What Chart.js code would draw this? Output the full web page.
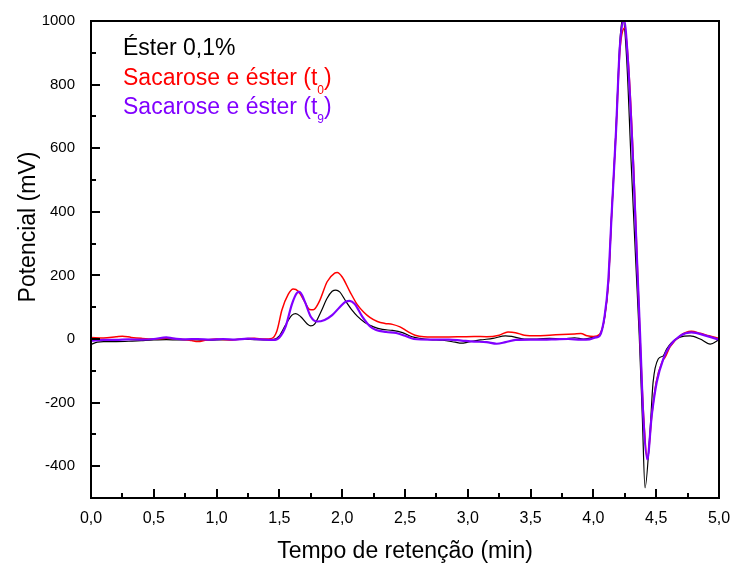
<!DOCTYPE html>
<html>
<head>
<meta charset="utf-8">
<script src="https://cdn.jsdelivr.net/npm/chart.js@4.4.1/dist/chart.umd.min.js"></script>
<style>
  html, body { margin: 0; padding: 0; background: #ffffff; }
  #wrap { width: 734px; height: 564px; position: relative; }
</style>
</head>
<body>
<div id="wrap"><canvas id="c" width="734" height="564"></canvas></div>
<script>
// ---------- Data ----------
const seriesNames = ["Éster 0,1%", "Sacarose e éster (t", "Sacarose e éster (t"];
const seriesSubs = ["", "0", "9"];
const seriesColors = ["#000000", "#ff0000", "#8000ff"];

const xTitle = "Tempo de retenção (min)";
const yTitle = "Potencial (mV)";

const xMajorTicks = [0, 0.5, 1, 1.5, 2, 2.5, 3, 3.5, 4, 4.5, 5];
const xMinorTicks = [0.25, 0.75, 1.25, 1.75, 2.25, 2.75, 3.25, 3.75, 4.25, 4.75];
const yMajorTicks = [-400, -200, 0, 200, 400, 600, 800, 1000];
const yMinorTicks = [-500, -300, -100, 100, 300, 500, 700, 900];

// Éster 0,1% (black)
const tEster = [0.00,0.05,0.10,0.20,0.30,0.40,0.50,0.60,0.70,0.80,0.90,1.00,1.10,1.20,1.30,1.40,1.45,
  1.50,1.55,1.60,1.63,1.67,1.72,1.75,1.78,1.83,1.88,1.92,1.95,1.98,2.03,2.08,2.12,2.18,2.25,2.32,2.40,2.48,
  2.55,2.62,2.70,2.80,2.90,2.95,3.00,3.10,3.20,3.30,3.35,3.45,3.55,3.65,3.75,3.85,3.92,4.00,4.05,4.09,
  4.12,4.145,4.18,4.21,4.235,4.265,4.30,4.34,4.365,4.39,4.411,4.45,4.475,4.516,4.556,4.583,4.62,4.69,
  4.77,4.85,4.93,5.00];
const vEster = [-17,-10,-8,-8,-7,-5,-3,-2,-3,-2,-4,-3,-2,-1,-2,-3,-2,
  10,45,75,80,70,48,41,47,85,128,150,154,148,118,90,72,52,38,30,27,20,
  8,2,-2,-4,-10,-13,-10,-3,2,10,8,0,0,2,0,4,0,5,12,70,
  180,390,660,930,1010,880,560,220,10,-250,-468,-295,-137,-63,-53,-32,-12,6,
  10,0,-16,-2];

// Sacarose e éster (t0) (red)
const tT0 = [0.00,0.10,0.20,0.25,0.32,0.40,0.50,0.60,0.70,0.80,0.85,0.92,1.00,1.10,1.20,1.30,1.38,1.44,
  1.48,1.52,1.57,1.61,1.65,1.70,1.74,1.77,1.82,1.88,1.94,1.96,2.00,2.06,2.12,2.17,2.22,2.28,2.34,2.40,
  2.46,2.52,2.58,2.65,2.80,2.95,3.05,3.15,3.25,3.32,3.38,3.45,3.55,3.65,3.75,3.85,3.90,3.95,4.00,4.05,
  4.09,4.12,4.145,4.18,4.21,4.25,4.28,4.32,4.35,4.37,4.40,4.43,4.465,4.50,4.55,4.57,4.61,4.69,4.78,
  4.85,4.92,5.00];
const vT0 = [5,3,7,9,5,2,0,2,0,-5,-8,-3,0,-3,0,2,0,2,
  25,91,140,157,150,118,93,92,120,180,207,209,195,150,108,85,68,55,49,46,
  38,24,12,7,6,7,8,7,12,22,20,12,10,12,14,16,17,10,8,15,
  70,180,390,650,900,978,860,545,230,20,-242,-378,-240,-136,-70,-58,-25,10,24,
  18,10,2];

// Sacarose e éster (t9) (purple)
const tT9 = [0.00,0.10,0.20,0.30,0.40,0.50,0.60,0.65,0.75,0.85,0.95,1.05,1.15,1.25,1.35,1.45,
  1.50,1.55,1.60,1.64,1.66,1.70,1.75,1.80,1.86,1.92,1.98,2.03,2.06,2.10,2.16,2.22,2.27,2.35,2.43,
  2.50,2.57,2.70,2.85,2.95,3.05,3.15,3.23,3.30,3.38,3.50,3.60,3.70,3.80,3.90,3.97,4.02,4.05,
  4.09,4.118,4.145,4.18,4.21,4.243,4.277,4.317,4.349,4.371,4.397,4.429,4.464,4.504,4.556,4.61,
  4.69,4.78,4.90,5.00];
const vT9 = [-5,-3,-3,-1,-2,0,5,2,-1,0,-2,0,-2,1,-1,-3,
  5,40,110,145,148,120,70,55,60,75,100,118,120,110,70,40,28,22,19,
  10,0,-2,-2,-5,-8,-10,-15,-10,-3,-2,-2,-1,0,-2,-1,5,10,
  74,180,390,653,916,1005,863,547,231,21,-242,-379,-242,-136,-63,-21,
  10,21,10,-2];

const toPts = (ts, vs) => ts.map((t, i) => ({ x: t, y: vs[i] }));

const FONT = "'Liberation Sans', Arial, Helvetica, sans-serif";

// ---------- Plugin: frame, inward ticks, titles, legend ----------
const decor = {
  id: 'decor',
  afterDraw(chart) {
    const ctx = chart.ctx;
    const a = chart.chartArea;
    const xs = chart.scales.x, ys = chart.scales.y;
    ctx.save();
    ctx.strokeStyle = '#000';
    ctx.lineWidth = 2;
    ctx.beginPath();
    ctx.rect(a.left, a.top, a.right - a.left, a.bottom - a.top);
    ctx.stroke();
    // ticks
    ctx.beginPath();
    xMajorTicks.forEach(v => { const p = Math.round(xs.getPixelForValue(v)); ctx.moveTo(p, a.bottom); ctx.lineTo(p, a.bottom - 9); });
    xMinorTicks.forEach(v => { const p = Math.round(xs.getPixelForValue(v)); ctx.moveTo(p, a.bottom); ctx.lineTo(p, a.bottom - 5); });
    yMajorTicks.forEach(v => { const p = Math.round(ys.getPixelForValue(v)); ctx.moveTo(a.left, p); ctx.lineTo(a.left + 9, p); });
    yMinorTicks.forEach(v => { const p = Math.round(ys.getPixelForValue(v)); ctx.moveTo(a.left, p); ctx.lineTo(a.left + 5, p); });
    ctx.stroke();

    // axis titles
    ctx.fillStyle = '#000';
    ctx.font = '23px ' + FONT;
    ctx.textAlign = 'center';
    ctx.textBaseline = 'alphabetic';
    ctx.fillText(xTitle, (a.left + a.right) / 2, 558);
    ctx.save();
    ctx.translate(35, 227);
    ctx.rotate(-Math.PI / 2);
    ctx.fillText(yTitle, 0, 0);
    ctx.restore();

    // legend (text only, with subscripts)
    ctx.textAlign = 'left';
    const baselines = [55, 85, 114];
    seriesNames.forEach((name, i) => {
      ctx.fillStyle = seriesColors[i];
      ctx.font = '23px ' + FONT;
      let x = 123;
      ctx.fillText(name, x, baselines[i]);
      if (seriesSubs[i]) {
        x += ctx.measureText(name).width;
        ctx.font = '12px ' + FONT;
        ctx.fillText(seriesSubs[i], x, baselines[i] + 9);
        x += ctx.measureText(seriesSubs[i]).width;
        ctx.font = '23px ' + FONT;
        ctx.fillText(')', x, baselines[i]);
      }
    });
    ctx.restore();
  }
};

const chart = new Chart(document.getElementById('c'), {
  type: 'line',
  data: {
    datasets: [
      { label: 'Éster 0,1%', data: toPts(tEster, vEster), borderColor: seriesColors[0], borderWidth: 1.2, order: 2 },
      { label: 'Sacarose e éster (t0)', data: toPts(tT0, vT0), borderColor: seriesColors[1], borderWidth: 1.5, order: 1 },
      { label: 'Sacarose e éster (t9)', data: toPts(tT9, vT9), borderColor: seriesColors[2], borderWidth: 2.2, order: 0 }
    ]
  },
  options: {
    responsive: false,
    animation: false,
    events: [],
    layout: { padding: { top: 21, right: 15, left: 0, bottom: 0 } },
    elements: {
      point: { radius: 0 },
      line: { cubicInterpolationMode: 'monotone', fill: false }
    },
    plugins: { legend: { display: false }, tooltip: { enabled: false } },
    scales: {
      x: {
        type: 'linear', min: 0, max: 5,
        grid: { display: false, drawTicks: false },
        border: { display: false },
        afterBuildTicks: s => { s.ticks = xMajorTicks.map(v => ({ value: v })); },
        afterFit: s => { s.height = 66; s.paddingLeft = 0; s.paddingRight = 0; },
        ticks: {
          color: '#000', padding: 11,
          font: { family: FONT, size: 16 },
          maxRotation: 0, autoSkip: false,
          callback: v => Number(v).toFixed(1).replace('.', ',')
        }
      },
      y: {
        type: 'linear', min: -500, max: 1000,
        grid: { display: false, drawTicks: false },
        border: { display: false },
        afterBuildTicks: s => { s.ticks = yMajorTicks.map(v => ({ value: v })); },
        afterFit: s => { s.width = 91; s.paddingTop = 0; s.paddingBottom = 0; },
        ticks: {
          color: '#000', padding: 16,
          font: { family: FONT, size: 15 },
          autoSkip: false,
          callback: v => String(v)
        }
      }
    }
  },
  plugins: [decor]
});
</script>
</body>
</html>
